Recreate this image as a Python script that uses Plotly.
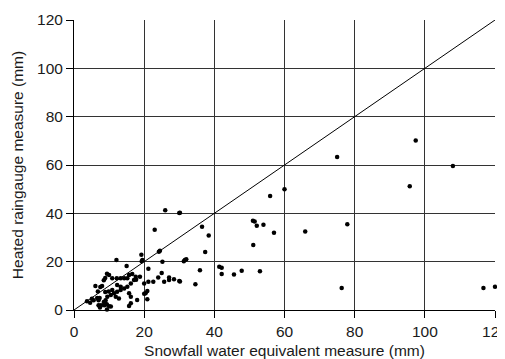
import plotly.graph_objects as go

# Snowfall water equivalent (mm)
swe = [
    120.0, 116.7, 108.0, 97.4, 95.7, 75.0, 77.9, 76.3,
    60.0, 55.9, 57.0, 65.9, 51.0, 51.5, 52.1, 54.0, 51.1,
    36.5, 38.4, 37.4, 30.2, 31.6, 32.0, 31.3, 35.9, 41.4, 42.1, 42.1, 45.6, 47.8, 53.0,
    30.2, 34.6, 26.0, 30.0, 23.0, 19.2, 12.1, 19.3, 24.2, 24.5, 25.2, 21.2, 25.0, 24.0,
    21.2, 22.6, 25.7, 27.1, 27.1, 28.5, 30.0, 18.8, 20.9, 20.0, 20.9, 20.0, 20.4, 19.5,
    9.4, 8.9, 8.5, 6.1, 7.5, 8.0, 6.8, 8.9, 9.9, 5.1, 5.6, 6.6, 7.0, 7.3, 8.5, 9.0,
    7.0, 7.7, 8.6, 7.4, 9.4, 10.0, 9.4, 3.7, 4.6,
    15.0, 10.0, 10.9, 12.2, 13.3, 14.3, 15.2, 15.7, 16.6, 17.1, 17.6,
    16.2, 15.2, 14.3, 13.3, 12.3, 11.4, 10.5, 9.5, 12.3, 13.3, 10.9, 11.9, 12.8,
    15.7, 18.0, 16.2, 10.5, 9.0, 17.7, 16.2, 15.7,
]
# Heated raingauge measure (mm)
rain = [
    9.6, 9.1, 59.6, 70.1, 51.2, 63.3, 35.5, 9.1,
    50.0, 47.2, 32.0, 32.5, 36.9, 36.6, 34.9, 35.3, 26.9,
    34.4, 30.8, 24.0, 40.2, 20.7, 21.0, 20.2, 16.4, 17.9, 17.5, 14.9, 14.7, 16.2, 16.0,
    11.8, 10.7, 41.3, 40.1, 33.2, 22.9, 20.7, 20.2, 24.1, 24.5, 20.0, 17.1, 15.3, 13.5,
    11.7, 11.7, 11.7, 12.4, 13.5, 12.7, 12.0, 13.8, 7.9, 6.7, 4.4, 11.0, 6.9, 20.7,
    15.0, 13.2, 12.3, 9.9, 9.5, 9.9, 7.7, 7.4, 7.7, 4.7, 4.0, 5.0, 4.0, 5.0, 3.3, 4.0,
    2.0, 2.0, 2.0, 1.0, 2.3, 1.6, 0.2, 3.6, 3.0,
    18.2, 14.5, 13.1, 13.1, 13.1, 13.1, 13.1, 14.5, 14.9, 12.4, 13.8,
    11.0, 9.6, 8.9, 8.3, 7.6, 6.9, 6.2, 5.5, 10.3, 9.6, 8.3, 5.5, 4.8,
    6.9, 4.1, 2.8, 1.4, 2.8, 12.5, 5.5, 1.7,
]

axis_range = [0, 120]
tick_vals = [0, 20, 40, 60, 80, 100, 120]

fig = go.Figure()
fig.add_trace(go.Scatter(
    x=axis_range, y=axis_range, mode="lines",
    line=dict(color="black", width=1), hoverinfo="skip", showlegend=False,
))
fig.add_trace(go.Scatter(
    x=swe, y=rain, mode="markers",
    marker=dict(color="black", size=4.5), showlegend=False, cliponaxis=False,
))

font = dict(family="Liberation Sans, Arial, sans-serif", size=15.5, color="#1a1a1a")
axis_common = dict(
    range=axis_range, tickvals=tick_vals, showgrid=True, gridcolor="#333",
    gridwidth=1, showline=True, linecolor="black", linewidth=1,
    ticks="outside", ticklen=7, tickcolor="black", zeroline=False,
    tickfont=font, fixedrange=True, automargin=False,
    ticklabeloverflow="allow",
)
# The page body has an 8px default margin, so the figure is offset by 8px.
fig.update_layout(
    width=497, height=351,
    margin=dict(l=66, r=10, t=12, b=49),
    paper_bgcolor="white", plot_bgcolor="white",
    font=font,
    xaxis=dict(title=dict(text="Snowfall water equivalent measure (mm)", font=font, standoff=6), **axis_common),
    yaxis=dict(title=dict(text="Heated raingauge measure (mm)", font=font, standoff=9), **axis_common),
)
fig.write_html("out.html")
